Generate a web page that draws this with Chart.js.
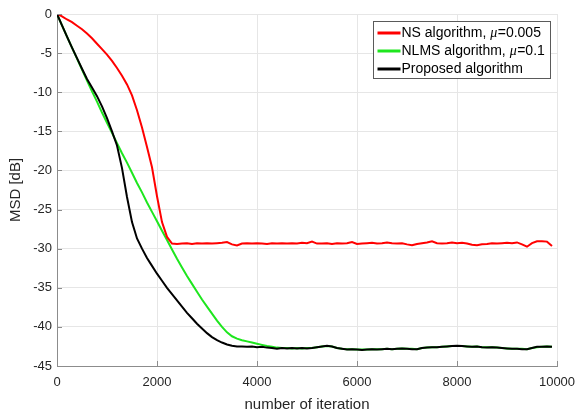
<!DOCTYPE html>
<html>
<head>
<meta charset="utf-8">
<script src="https://cdn.jsdelivr.net/npm/chart.js@4"></script>
<style>
  html, body { margin: 0; padding: 0; background: #fff; }
  #wrap { width: 579px; height: 417px; position: relative; }
</style>
</head>
<body>
<div id="wrap"><canvas id="c" width="579" height="417"></canvas></div>
<script>
// ---- data ----
const iterations = [
  0, 100, 200, 300, 400, 500, 600, 700, 800, 900,
  1000, 1100, 1200, 1300, 1400, 1500, 1600, 1700, 1800, 1900,
  2000, 2100, 2200, 2300, 2400, 2500, 2600, 2700, 2800, 2900,
  3000, 3100, 3200, 3300, 3400, 3500, 3600, 3700, 3800, 3900,
  4000, 4100, 4200, 4300, 4400, 4500, 4600, 4700, 4800, 4900,
  5000, 5100, 5200, 5300, 5400, 5500, 5600, 5700, 5800, 5900,
  6000, 6100, 6200, 6300, 6400, 6500, 6600, 6700, 6800, 6900,
  7000, 7100, 7200, 7300, 7400, 7500, 7600, 7700, 7800, 7900,
  8000, 8100, 8200, 8300, 8400, 8500, 8600, 8700, 8800, 8900,
  9000, 9100, 9200, 9300, 9400, 9500, 9600, 9700, 9800, 9900
];

const nsMSD = [
  0, -0.3, -0.7, -1.05, -1.5, -1.95, -2.5, -3.1, -3.8, -4.5,
  -5.2, -6.0, -6.9, -7.9, -9.0, -10.4, -12.3, -14.5, -17.0, -19.6,
  -23.3, -26.6, -28.5, -29.35, -29.4, -29.35, -29.3, -29.4, -29.3, -29.35,
  -29.3, -29.35, -29.3, -29.25, -29.15, -29.45, -29.6, -29.35, -29.3, -29.35,
  -29.3, -29.35, -29.4, -29.3, -29.35, -29.3, -29.35, -29.3, -29.35, -29.25,
  -29.3, -29.1, -29.35, -29.35, -29.3, -29.4, -29.3, -29.35, -29.3, -29.15,
  -29.4, -29.35, -29.3, -29.25, -29.35, -29.3, -29.2, -29.3, -29.35, -29.3,
  -29.45, -29.55, -29.4, -29.3, -29.2, -29.05, -29.3, -29.35, -29.3, -29.2,
  -29.3, -29.25, -29.35, -29.5, -29.55, -29.45, -29.4, -29.3, -29.35, -29.3,
  -29.25, -29.3, -29.2, -29.45, -29.75, -29.3, -29.05, -29.05, -29.1, -29.65
];

const nlmsMSD = [
  0, -1.45, -2.9, -4.3, -5.7, -7.1, -8.5, -9.9, -11.2, -12.6,
  -13.9, -15.2, -16.5, -17.8, -19.0, -20.3, -21.6, -22.8, -24.1, -25.3,
  -26.5, -27.7, -28.9, -30.1, -31.3, -32.4, -33.5, -34.5, -35.5, -36.5,
  -37.4, -38.3, -39.2, -40.0, -40.7, -41.2, -41.5, -41.7, -41.85, -42.0,
  -42.15, -42.3, -42.45, -42.55, -42.65, -42.7, -42.7, -42.75, -42.7, -42.75,
  -42.7, -42.7, -42.6, -42.5, -42.45, -42.5, -42.7, -42.8, -42.85, -42.85,
  -42.9, -42.9, -42.9, -42.85, -42.85, -42.85, -42.8, -42.85, -42.8, -42.75,
  -42.8, -42.8, -42.85, -42.7, -42.65, -42.6, -42.6, -42.55, -42.5, -42.45,
  -42.45, -42.45, -42.5, -42.55, -42.5, -42.6, -42.6, -42.6, -42.65, -42.7,
  -42.75, -42.8, -42.8, -42.8, -42.85, -42.7, -42.6, -42.55, -42.5, -42.55
];

const proposedMSD = [
  0, -1.45, -2.9, -4.3, -5.65, -7.0, -8.3, -9.4, -10.5, -11.8,
  -13.3, -15.0, -16.8, -19.7, -23.4, -26.6, -28.7, -30.0, -31.2, -32.2,
  -33.2, -34.1, -35.0, -35.8, -36.6, -37.4, -38.2, -38.9, -39.6, -40.2,
  -40.8, -41.3, -41.7, -42.0, -42.25, -42.4, -42.5, -42.5, -42.55, -42.5,
  -42.6, -42.55, -42.65, -42.7, -42.8, -42.7, -42.75, -42.7, -42.75, -42.7,
  -42.75, -42.7, -42.6, -42.5, -42.4, -42.5, -42.7, -42.8, -42.9, -42.85,
  -42.9, -42.95, -42.9, -42.85, -42.9, -42.85, -42.8, -42.85, -42.8, -42.75,
  -42.8, -42.85, -42.85, -42.7, -42.65, -42.6, -42.6, -42.55, -42.5, -42.45,
  -42.4, -42.45, -42.5, -42.55, -42.5, -42.6, -42.65, -42.6, -42.65, -42.7,
  -42.75, -42.8, -42.8, -42.85, -42.85, -42.7, -42.55, -42.55, -42.5, -42.55
];

const seriesNames = ['NS algorithm, μ=0.005', 'NLMS algorithm, μ=0.1', 'Proposed algorithm'];
const seriesColors = ['#ff0000', '#1ee61e', '#000000'];
const xTicks = [0, 2000, 4000, 6000, 8000, 10000];
const yTicks = [0, -5, -10, -15, -20, -25, -30, -35, -40, -45];
const xTitle = 'number of iteration';
const yTitle = 'MSD [dB]';

// ---- build ----
const FONT = '"Liberation Sans", Arial, Helvetica, sans-serif';
const toPts = vals => iterations.map((it, i) => ({ x: it, y: vals[i] }));
const seriesValues = [nsMSD, nlmsMSD, proposedMSD];
// drawing order: black on top, then red, then green
const drawOrder = [1, 2, 0];

const datasets = seriesNames.map((name, i) => ({
  label: name,
  data: toPts(seriesValues[i]),
  borderColor: seriesColors[i],
  backgroundColor: seriesColors[i],
  borderWidth: 2,
  pointRadius: 0,
  tension: 0,
  fill: false,
  order: drawOrder[i]
}));

const innerTicks = {
  id: 'innerTicks',
  afterDraw(chart) {
    const { ctx, chartArea, scales } = chart;
    ctx.save();
    ctx.strokeStyle = '#8c8c8c';
    ctx.lineWidth = 1;
    ctx.beginPath();
    xTicks.forEach(v => {
      const px = Math.round(scales.x.getPixelForValue(v)) + 0.5;
      ctx.moveTo(px, chartArea.bottom);
      ctx.lineTo(px, chartArea.bottom - 5);
    });
    yTicks.forEach(v => {
      const py = Math.round(scales.y.getPixelForValue(v)) + 0.5;
      ctx.moveTo(chartArea.left, py);
      ctx.lineTo(chartArea.left + 5, py);
    });
    ctx.stroke();
    ctx.restore();
  }
};

const boxLegend = {
  id: 'boxLegend',
  afterDraw(chart) {
    const { ctx, chartArea } = chart;
    const x0 = Math.round(chartArea.right) - 184 + 0.5;
    const y0 = Math.round(chartArea.top) + 7 + 0.5;
    const w = 177, h = 57;
    ctx.save();
    ctx.fillStyle = '#ffffff';
    ctx.fillRect(x0, y0, w, h);
    ctx.strokeStyle = '#5a5a5a';
    ctx.lineWidth = 1;
    ctx.strokeRect(x0, y0, w, h);
    seriesNames.forEach((name, i) => {
      const cy = y0 + 11.5 + i * 18;
      ctx.strokeStyle = seriesColors[i];
      ctx.lineWidth = 3;
      ctx.beginPath();
      ctx.moveTo(x0 + 4, cy);
      ctx.lineTo(x0 + 27, cy);
      ctx.stroke();
      ctx.fillStyle = '#000000';
      ctx.textBaseline = 'middle';
      ctx.textAlign = 'left';
      let tx = x0 + 28;
      const parts = name.split('μ');
      parts.forEach((p, k) => {
        if (k > 0) {
          ctx.font = 'italic 14px "Liberation Serif", "DejaVu Serif", serif';
          ctx.fillText('μ', tx, cy);
          tx += ctx.measureText('μ').width + 0.5;
        }
        ctx.font = '14px ' + FONT;
        ctx.fillText(p, tx, cy);
        tx += ctx.measureText(p).width;
      });
    });
    ctx.restore();
  }
};

new Chart(document.getElementById('c'), {
  type: 'line',
  data: { datasets },
  options: {
    responsive: false,
    animation: false,
    devicePixelRatio: 1,
    layout: { padding: { left: 0, right: 22, top: 14, bottom: 0 } },
    plugins: {
      legend: { display: false },
      tooltip: { enabled: false }
    },
    scales: {
      x: {
        type: 'linear',
        min: 0,
        max: 10000,
        afterFit: s => { s.height = 51; s.paddingLeft = 0; s.paddingRight = 0; },
        afterBuildTicks: s => { s.ticks = xTicks.map(v => ({ value: v })); },
        ticks: {
          padding: 9,
          maxRotation: 0,
          color: '#262626',
          font: { family: FONT, size: 13 },
          callback: v => String(v)
        },
        grid: { color: '#e6e6e6', drawTicks: false, lineWidth: 1 },
        border: { color: '#8c8c8c', width: 1 },
        title: {
          display: true,
          text: xTitle,
          color: '#262626',
          font: { family: FONT, size: 15 },
          padding: { top: 0, bottom: 3 }
        }
      },
      y: {
        type: 'linear',
        min: -45,
        max: 0,
        afterFit: s => { s.width = 57; s.paddingTop = 0; s.paddingBottom = 0; },
        afterBuildTicks: s => { s.ticks = yTicks.map(v => ({ value: v })); },
        ticks: {
          padding: 5,
          color: '#262626',
          font: { family: FONT, size: 13 },
          callback: v => String(v)
        },
        grid: { color: '#e6e6e6', drawTicks: false, lineWidth: 1 },
        border: { color: '#8c8c8c', width: 1 },
        title: {
          display: true,
          text: yTitle,
          color: '#262626',
          font: { family: FONT, size: 15 },
          padding: { top: 7, bottom: 0 }
        }
      }
    }
  },
  plugins: [innerTicks, boxLegend]
});
</script>
</body>
</html>
